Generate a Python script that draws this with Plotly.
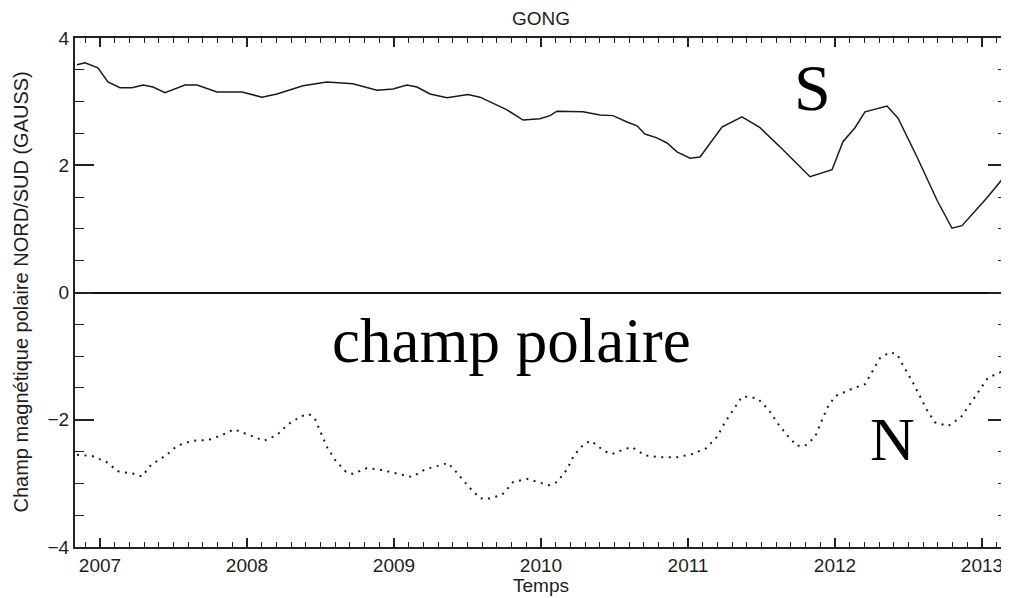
import plotly.graph_objects as go

# South (solid) polar field, time in years, value in Gauss
s_time = [2006.844, 2006.898, 2006.986, 2007.054, 2007.136, 2007.218, 2007.293, 2007.361,
          2007.442, 2007.578, 2007.660, 2007.796, 2007.966, 2008.102, 2008.204, 2008.381,
          2008.544, 2008.721, 2008.884, 2008.993, 2009.088, 2009.156, 2009.245, 2009.361,
          2009.503, 2009.585, 2009.769, 2009.878, 2009.993, 2010.061, 2010.109, 2010.286,
          2010.401, 2010.490, 2010.585, 2010.653, 2010.707, 2010.789, 2010.857, 2010.925,
          2011.014, 2011.082, 2011.231, 2011.367, 2011.490, 2011.639, 2011.830, 2011.980,
          2012.054, 2012.136, 2012.204, 2012.354, 2012.429, 2012.558, 2012.694, 2012.796,
          2012.864, 2013.034, 2013.170]
s_value = [3.58, 3.61, 3.53, 3.31, 3.22, 3.22, 3.26, 3.23,
           3.14, 3.26, 3.26, 3.15, 3.15, 3.07, 3.12, 3.25,
           3.31, 3.28, 3.18, 3.20, 3.26, 3.23, 3.12, 3.06,
           3.11, 3.07, 2.87, 2.71, 2.73, 2.78, 2.85, 2.84,
           2.79, 2.78, 2.68, 2.62, 2.49, 2.43, 2.35, 2.21,
           2.11, 2.13, 2.60, 2.76, 2.59, 2.26, 1.82, 1.93,
           2.37, 2.59, 2.84, 2.93, 2.74, 2.13, 1.45, 1.01,
           1.05, 1.49, 1.87]

# North (dotted) polar field
n_time = [2006.844, 2006.946, 2007.041, 2007.122, 2007.231, 2007.286, 2007.347, 2007.449,
          2007.524, 2007.626, 2007.735, 2007.830, 2007.912, 2008.020, 2008.116, 2008.204,
          2008.279, 2008.374, 2008.422, 2008.463, 2008.503, 2008.544, 2008.599, 2008.673,
          2008.721, 2008.816, 2008.918, 2009.020, 2009.122, 2009.211, 2009.320, 2009.367,
          2009.435, 2009.510, 2009.585, 2009.626, 2009.735, 2009.810, 2009.905, 2010.014,
          2010.054, 2010.109, 2010.177, 2010.224, 2010.293, 2010.340, 2010.429, 2010.483,
          2010.571, 2010.619, 2010.707, 2010.816, 2010.925, 2011.027, 2011.122, 2011.197,
          2011.252, 2011.306, 2011.367, 2011.422, 2011.476, 2011.551, 2011.605, 2011.673,
          2011.741, 2011.796, 2011.864, 2011.905, 2011.946, 2012.000, 2012.109, 2012.204,
          2012.259, 2012.306, 2012.374, 2012.422, 2012.469, 2012.524, 2012.578, 2012.626,
          2012.680, 2012.769, 2012.857, 2012.912, 2012.980, 2013.041, 2013.129, 2013.170]
n_value = [-2.55, -2.57, -2.66, -2.81, -2.85, -2.89, -2.71, -2.56,
           -2.41, -2.33, -2.32, -2.24, -2.15, -2.24, -2.33, -2.24,
           -2.07, -1.94, -1.91, -1.99, -2.21, -2.43, -2.63, -2.82,
           -2.85, -2.76, -2.79, -2.85, -2.90, -2.78, -2.71, -2.68,
           -2.85, -3.06, -3.23, -3.25, -3.18, -2.98, -2.93, -3.01,
           -3.03, -2.98, -2.78, -2.56, -2.38, -2.33, -2.49, -2.54,
           -2.46, -2.43, -2.56, -2.59, -2.59, -2.54, -2.45, -2.27,
           -2.04, -1.85, -1.64, -1.64, -1.67, -1.85, -2.04, -2.24,
           -2.41, -2.41, -2.27, -2.04, -1.82, -1.63, -1.52, -1.44,
           -1.22, -1.03, -0.94, -0.97, -1.17, -1.39, -1.63, -1.85,
           -2.04, -2.10, -1.96, -1.77, -1.55, -1.34, -1.25, -1.22]

x_ticks = [2007, 2008, 2009, 2010, 2011, 2012, 2013]
y_ticks = [-4, -2, 0, 2, 4]
x_range = [2006.83, 2013.17]
y_range = [-4, 4]

AX = "#222222"
TXT = "#1e1e1e"
FONT = "Liberation Sans"
SERIF = "Liberation Serif"

fig = go.Figure()
fig.add_trace(go.Scatter(x=s_time, y=s_value, mode="lines",
                         line=dict(color="#1a1a1a", width=1.5), showlegend=False))
fig.add_trace(go.Scatter(x=n_time, y=n_value, mode="lines",
                         line=dict(color="#1a1a1a", width=2, dash="2px,5.5px"), showlegend=False))
# empty trace so the mirrored (top/right) tick axes are drawn
fig.add_trace(go.Scatter(x=[], y=[], xaxis="x2", yaxis="y2", showlegend=False, hoverinfo="skip"))

xminor = dict(dtick=0.1, tick0=2007, ticks="inside", ticklen=5, tickwidth=1.2, tickcolor=AX)
yminor = dict(dtick=0.5, tick0=0, ticks="inside", ticklen=9, tickwidth=1.2, tickcolor=AX)

# the page places the figure 8px in from the window's top-left corner
fig.update_layout(
    width=1001, height=590,
    margin=dict(l=67, r=2, t=30, b=51),
    paper_bgcolor="white", plot_bgcolor="white",
    font=dict(family=FONT, size=19, color=TXT),
    xaxis=dict(range=x_range, tickvals=x_ticks, ticktext=[str(v) for v in x_ticks],
               ticks="inside", ticklen=9, tickwidth=1.5, tickcolor=AX, minor=xminor,
               showline=True, linecolor=AX, linewidth=2, mirror=True,
               showgrid=False, zeroline=False, automargin=False,
               tickfont=dict(size=19, color=TXT), ticklabelstandoff=0),
    yaxis=dict(range=y_range, tickvals=y_ticks, ticktext=["\u22124", "\u22122", "0", "2", "4"],
               ticks="inside", ticklen=19, tickwidth=1.5, tickcolor=AX, minor=yminor,
               showline=True, linecolor=AX, linewidth=2, mirror=True,
               showgrid=False, zeroline=True, zerolinecolor="#111", zerolinewidth=1.6,
               automargin=False, tickfont=dict(size=19, color=TXT), ticklabelstandoff=0),
    xaxis2=dict(range=x_range, overlaying="x", side="top", anchor="y",
                tickvals=x_ticks, ticks="inside", ticklen=9, tickwidth=1.5, tickcolor=AX,
                minor=xminor, showticklabels=False, showgrid=False, zeroline=False,
                showline=False, automargin=False),
    yaxis2=dict(range=y_range, overlaying="y", side="right", anchor="x",
                tickvals=y_ticks, ticks="inside", ticklen=19, tickwidth=1.5, tickcolor=AX,
                minor=yminor, showticklabels=False, showgrid=False, zeroline=False,
                showline=False, automargin=False),
)

# titles
fig.add_annotation(xref="paper", yref="paper", x=0.5, y=1 + 20 / 509, text="GONG",
                   showarrow=False, font=dict(family=FONT, size=19, color=TXT),
                   xanchor="center", yanchor="middle")
fig.add_annotation(xref="paper", yref="paper", x=0.5, y=-38 / 509, text="Temps",
                   showarrow=False, font=dict(family=FONT, size=19, color=TXT),
                   xanchor="center", yanchor="middle")
fig.add_annotation(xref="paper", yref="paper", x=-55 / 932, y=0.5,
                   text="Champ magnétique polaire NORD/SUD (GAUSS)", textangle=-90,
                   showarrow=False, font=dict(family=FONT, size=20, color=TXT),
                   xanchor="center", yanchor="middle")

fig.add_annotation(x=2011.85, y=3.22, text="S", showarrow=False,
                   font=dict(family=SERIF, size=66, color="black"), xanchor="center", yanchor="middle")
fig.add_annotation(x=2009.80, y=-0.76, text="champ polaire", showarrow=False,
                   font=dict(family=SERIF, size=63, color="black"), xanchor="center", yanchor="middle")
fig.add_annotation(x=2012.39, y=-2.31, text="N", showarrow=False,
                   font=dict(family=SERIF, size=62, color="black"), xanchor="center", yanchor="middle")

fig.write_html("out.html")
